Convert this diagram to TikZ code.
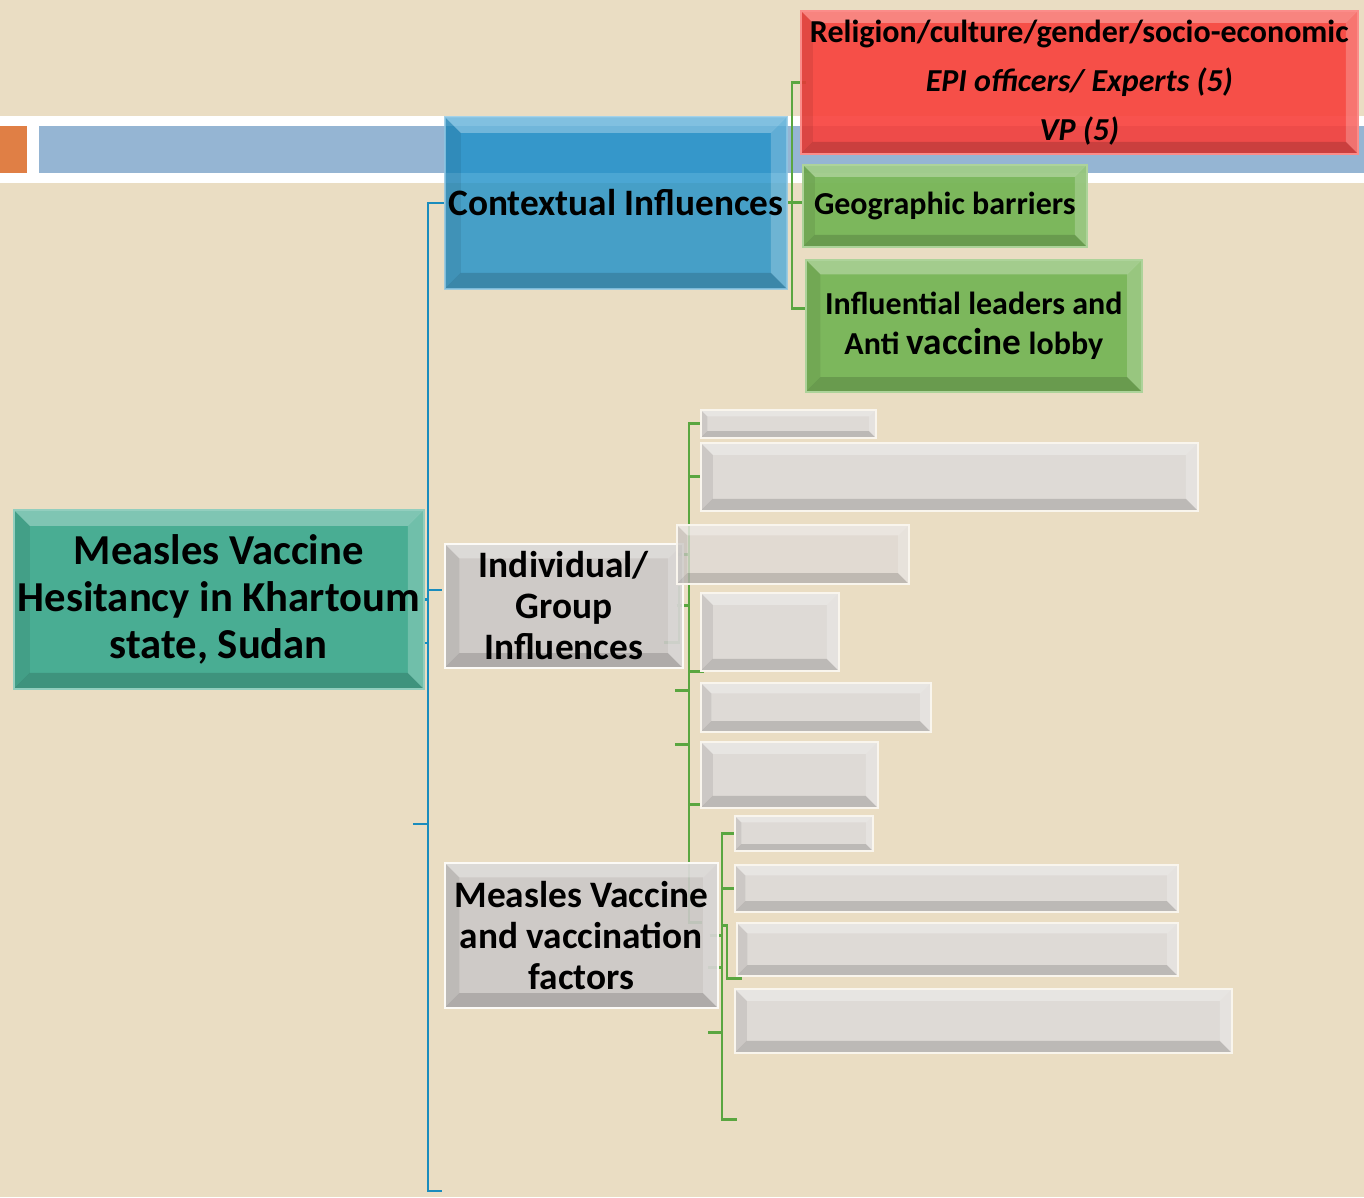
\documentclass[tikz,border=0pt]{standalone}
\usepackage{fontspec}
\setmainfont{Carlito}
\usepackage{tikz}
\definecolor{sand}{HTML}{EADDC3}
\definecolor{band}{HTML}{95B5D3}
\definecolor{tab}{HTML}{E07F45}
\definecolor{hubteal}{HTML}{49AD93}
\definecolor{ctxblue}{HTML}{1E90C8}
\definecolor{alarm}{HTML}{F8403B}
\definecolor{leaf}{HTML}{77B557}
\definecolor{stone}{HTML}{CBC8C8}
\definecolor{pale}{HTML}{DEDAD8}
\definecolor{trunkblue}{HTML}{1A8CBD}
\definecolor{twigreen}{HTML}{5AA640}
\pgfdeclarelayer{backdrop}\pgfdeclarelayer{links}\pgfsetlayers{backdrop,links,main}
\tikzset{px/.style={x=.75pt,y=-.75pt,line join=miter},
  bevel/.style={path picture={
    \path (path picture bounding box.north west) coordinate (bnw) (path picture bounding box.north east) coordinate (bne)
          (path picture bounding box.south west) coordinate (bsw) (path picture bounding box.south east) coordinate (bse);
    \fill[white,opacity=.3] (bnw)--(bne)--([shift={(-#1,-#1)}]bne)--([shift={(#1,-#1)}]bnw)--cycle;
    \fill[black,opacity=.08] (bnw)--(bsw)--([shift={(#1,#1)}]bsw)--([shift={(#1,-#1)}]bnw)--cycle;
    \fill[black,opacity=.15] (bsw)--(bse)--([shift={(-#1,#1)}]bse)--([shift={(#1,#1)}]bsw)--cycle;
    \fill[white,opacity=.22] (bse)--(bne)--([shift={(-#1,-#1)}]bne)--([shift={(-#1,#1)}]bse)--cycle;}},
  box/.style={anchor=north west,inner sep=0pt,align=center,text=black,text opacity=1,line width=1.2pt,bevel=#1},
  box/.default=9pt,
  hub/.style={fill=hubteal,draw=hubteal!60!white},
  ctx/.style={fill=ctxblue,fill opacity=.8,draw=ctxblue!50!white,draw opacity=.8},
  alert/.style={fill=alarm,fill opacity=.9,draw=alarm!60!white},
  grn/.style={fill=leaf,fill opacity=.95,draw=leaf!60!white},
  stonebox/.style={fill=stone,fill opacity=.9,draw=white!85!sand},
  blank/.style={fill=pale,fill opacity=.92,draw=white!70!sand},
  trunk/.style={trunkblue,line width=1.8pt},
  twig/.style={twigreen,line width=2.2pt}}

\begin{document}
\begin{tikzpicture}[px]
  \useasboundingbox (0,0) rectangle (1364,1197);
  \begin{pgfonlayer}{backdrop}
    \fill[sand] (0,0) rectangle (1364,1197);
    \fill[white] (0,116) rectangle (1364,183);
    \fill[tab] (0,126) rectangle (27,173);
    \fill[band] (39,126) rectangle (1364,173);
  \end{pgfonlayer}

  \node[box=12pt,hub,minimum width=307.5pt,minimum height=134.25pt,font=\fontsize{32}{35.25}\selectfont\bfseries] (hub) at (13,509) {Measles Vaccine\\Hesitancy in Khartoum\\state, Sudan};
  \node[box=12pt,ctx,minimum width=256.5pt,minimum height=129pt,font=\fontsize{28}{30}\selectfont\bfseries] (ctx) at (444,116) {Contextual Influences};
  \node[box,alert,minimum width=417.75pt,minimum height=107.25pt,font=\fontsize{24}{36.75}\selectfont\bfseries] (rel) at (800,10) {Religion/culture/gender/socio-economic\\{\itshape EPI officers/ Experts (5)}\\{\itshape VP (5)}};
  \node[box,grn,minimum width=213pt,minimum height=61.5pt,font=\fontsize{24}{26}\selectfont\bfseries] (geo) at (802,164) {Geographic barriers};
  \node[box=11pt,grn,minimum width=252pt,minimum height=99pt,font=\fontsize{24}{30}\selectfont\bfseries] (lobby) at (805,259) {Influential leaders and\\Anti {\fontsize{28}{30}\selectfont vaccine} lobby};
  \node[box=11pt,stonebox,minimum width=178.5pt,minimum height=93pt,font=\fontsize{28}{30.75}\selectfont\bfseries] (indiv) at (444,543) {Individual/\\Group\\Influences};
  \node[box=11pt,stonebox,minimum width=204.75pt,minimum height=108.75pt,font=\fontsize{28}{30.75}\selectfont\bfseries] (mvf) at (444,862) {Measles Vaccine\\and vaccination\\factors};
  % empty leaves
  \foreach \n/\x/\y/\w/\h/\b/\o in {i1/700/409/131.25/21/5/.92, i2/700/442/372.75/51/9/.92, i3/676/524/174/44.25/8/.75,
      i4/700/592/103.5/58.5/9/.92, i5/700/682/172.5/36.75/8/.92, i6/700/741/132.75/49.5/9/.92,
      h1/734/815/103.5/26.25/5/.92, h2/734/864/332.25/35.25/8/.92, h3/736/922/330.75/39.75/8/.92, h4/734/988/372.75/48/9/.92}
    \node[box=\b pt,blank,fill opacity=\o,minimum width=\w pt,minimum height=\h pt] (\n) at (\x,\y) {};

  \begin{pgfonlayer}{links}
    \draw[trunk] (ctx.west) -- ++(-16,0) coordinate (tt) |- ++(14,988);
    \draw[trunk] (tt) ++(0,387) -- ++(14,0);
    \draw[trunk] ([xshift=-6pt]hub.east) -- (hub.east -| tt);
    \draw[trunk] (tt) ++(0,440) -- ++(-13,0);
    \draw[trunk] (tt) ++(0,621) -- ++(-15,0);
    \draw[twig] ([xshift=4.5pt]rel.west) -- ++(-14,0) -- ++(0,226) -- ++(14,0);
    \draw[twig] (ctx.east) -- (ctx.east -| geo.west);
    \draw[twig] (i1.west) -- ++(-11,0) coordinate (gb) -- ++(0,499) -- ++(13,0);
    \draw[twig] (i2.west) -- (i2.west -| gb);
    \draw[twig] (i3.west) -- (i3.west -| gb);
    \draw[twig] ([xshift=-5pt]indiv.east) -- (indiv.east -| gb);
    \draw[twig] (gb) ++(-10,162) -- ++(0,57) -- ++(-15,0);
    \draw[twig] (gb) ++(0,248) -- ++(15,0);
    \draw[twig] (gb) ++(0,267) -- ++(-14,0);
    \draw[twig] (gb) ++(0,321) -- ++(-14,0);
    \draw[twig] (gb) ++(0,381) -- ++(11,0);
    \draw[twig] (h1.west) -- ++(-12,0) coordinate (gc) -- ++(0,286) -- ++(15,0);
    \draw[twig] (h2.west) -- (h2.west -| gc);
    \draw[twig] (gc) ++(0,92.5) -- ++(5,0) -- ++(0,53) -- ++(15,0);
    \draw[twig] (mvf.east) ++(-9,0) -- (mvf.east -| gc);
    \draw[twig] (gc) ++(-14,134.5) -- ++(14,0);
    \draw[twig] (gc) ++(-14,199.5) -- ++(14,0);
  \end{pgfonlayer}
\end{tikzpicture}
\end{document}
